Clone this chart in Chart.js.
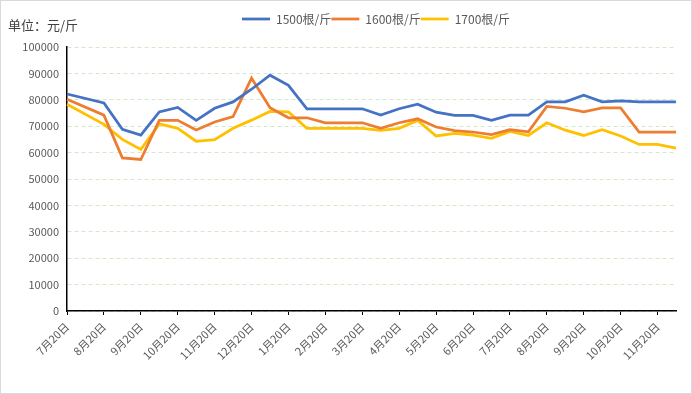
<!DOCTYPE html>
<html lang="zh">
<head>
    <meta charset="UTF-8">
    <title>价格走势</title>
    <script src="https://cdn.jsdelivr.net/npm/chart.js"></script>
    <style>
        body { margin: 0; background: #fff; }
        .box { width: 692px; height: 394px; position: relative; }
    </style>
</head>
<body>
<div class="box"><canvas id="priceChart" width="692" height="394"></canvas></div>
<script>
    // categories: two per month, only the 20th is labelled on the axis
    const categories = ["7月20日", "", "8月20日", "", "9月20日", "", "10月20日", "", "11月20日", "",
        "12月20日", "", "1月20日", "", "2月20日", "", "3月20日", "", "4月20日", "", "5月20日", "",
        "6月20日", "", "7月20日", "", "8月20日", "", "9月20日", "", "10月20日", "", "11月20日", ""];
    const seriesNames = ["1500根/斤", "1600根/斤", "1700根/斤"];
    const s1500 = [82200, null, 78800, 68800, 66600, 75400, 77100, 72200, 76800, 79200, 84000, 89300,
        85500, 76600, 76600, 76600, 76600, 74200, 76600, 78300, 75300, 74100, 74100, 72200, 74200,
        74200, 79200, 79200, 81700, 79200, 79600, 79200, 79200, 79200];
    const s1600 = [80200, null, 74200, 58000, 57400, 72200, 72200, 68600, 71600, 73600, 88200, 77000,
        73200, 73200, 71300, 71300, 71300, 69200, 71300, 72800, 69700, 68300, 67800, 66800, 68700,
        67900, 77500, 76800, 75400, 76900, 76900, 67800, 67800, 67800];
    const s1700 = [78300, null, 70700, 65000, 61200, 70900, 69200, 64300, 64900, 69200, 72300, 75600,
        75400, 69200, 69200, 69200, 69200, 68400, 69200, 72200, 66300, 67300, 66600, 65400, 68000,
        66500, 71300, 68500, 66500, 68700, 66300, 63100, 63100, 61700];
    const yMin = 0, yMax = 100000, yStep = 10000;

    const textColor = "#595959";
    const fontFamily = "'Noto Sans CJK SC', 'Liberation Sans', sans-serif";

    // frame, unit label, and legend placement tweaks
    const extras = {
        id: "extras",
        beforeUpdate(chart) {
            const lg = chart.legend;
            if (lg && !lg._patched) {
                const fit = lg.fit;
                lg.fit = function () {
                    fit.call(this);
                    this.height = 34; // leave a gap under the legend
                };
                lg._patched = true;
            }
        },
        afterLayout(chart) {
            // Excel puts the legend a bit right of centre
            chart.legend.left += 33;
            chart.legend.right += 33;
        },
        afterDraw(chart) {
            const c = chart.ctx;
            c.save();
            c.strokeStyle = "#d9d9d9";
            c.lineWidth = 1;
            c.strokeRect(0.5, 0.5, chart.width - 1, chart.height - 1);
            c.fillStyle = "#404040";
            c.font = "13px " + fontFamily;
            c.textBaseline = "middle";
            c.fillText("单位：元/斤", 8, 25);
            c.restore();
        }
    };

    function mkSet(label, data, color) {
        return {
            label: label,
            data: data,
            borderColor: color,
            backgroundColor: color,
            borderWidth: 2.75,
            pointRadius: 0,
            pointHoverRadius: 0,
            tension: 0,
            spanGaps: true
        };
    }

    new Chart(document.getElementById("priceChart"), {
        type: "line",
        data: {
            labels: categories,
            datasets: [
                mkSet(seriesNames[0], s1500, "#4472C4"),
                mkSet(seriesNames[1], s1600, "#ED7D31"),
                mkSet(seriesNames[2], s1700, "#FFC000")
            ]
        },
        options: {
            responsive: false,
            animation: false,
            layout: { padding: { left: 10, right: 16, top: 13, bottom: 0 } },
            plugins: {
                tooltip: { enabled: false },
                legend: {
                    position: "top",
                    labels: {
                        usePointStyle: true,
                        pointStyle: "line",
                        pointStyleWidth: 28,
                        boxHeight: 3,
                        padding: 0,
                        color: textColor,
                        font: { family: fontFamily, size: 12 }
                    }
                }
            },
            scales: {
                x: {
                    offset: false,
                    afterFit(scale) { scale.height = 83; },
                    grid: {
                        drawOnChartArea: false,
                        drawTicks: true,
                        tickLength: 4,
                        color: "#000"
                    },
                    border: { color: "#000", width: 1.5 },
                    ticks: {
                        autoSkip: false,
                        maxRotation: 45,
                        minRotation: 45,
                        padding: 5,
                        color: textColor,
                        font: { family: fontFamily, size: 11 },
                        callback(v, i) { return categories[i] ? categories[i] : null; }
                    }
                },
                y: {
                    min: yMin,
                    max: yMax,
                    afterFit(scale) { scale.width = 57; },
                    grid: {
                        drawTicks: false,
                        color: "#d3e8c8",
                        lineWidth: 1
                    },
                    border: { color: "#000", width: 1.5, dash: [4, 3] },
                    ticks: {
                        stepSize: yStep,
                        padding: 8,
                        color: textColor,
                        font: { family: fontFamily, size: 11 },
                        callback(v) { return String(v); }
                    }
                }
            }
        },
        plugins: [extras]
    });
</script>
</body>
</html>
